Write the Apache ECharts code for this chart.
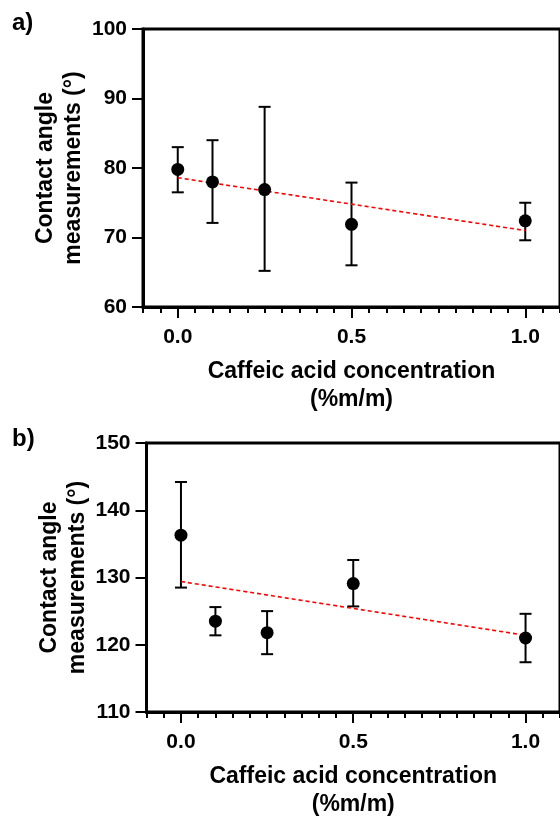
<!DOCTYPE html>
<html>
<head>
<meta charset="utf-8">
<script src="https://cdn.jsdelivr.net/npm/echarts@6/dist/echarts.min.js"></script>
<style>
  html, body { margin: 0; padding: 0; background: #fff; }
  #chart { width: 560px; height: 820px; }
</style>
</head>
<body>
<div id="chart"></div>
<script>
// caffeic acid concentration (%m/m)
var conc = [0, 0.1, 0.25, 0.5, 1.0];
var xMajorTicks = [0, 0.5, 1.0];

// panel a) contact angle, mean and error bar ends
var meanA = [79.8, 78.0, 76.9, 71.9, 72.4];
var upperA = [83.0, 84.0, 88.8, 77.9, 75.0];
var lowerA = [76.5, 72.1, 65.2, 66.0, 69.6];

// panel b)
var meanB = [136.3, 123.5, 121.8, 129.1, 121.0];
var upperB = [144.2, 125.6, 125.0, 132.6, 124.6];
var lowerB = [128.5, 121.4, 118.6, 125.7, 117.4];

// linear fit ends (at x = 0 and x = 1)
var fitX = [0, 1.0];
var fitA = [78.6, 71.0];
var fitB = [129.4, 121.4];

var FONT = '"Liberation Sans", Arial, sans-serif';

function errorBarItem(params, api) {
  var x = api.value(0);
  var top = api.coord([x, api.value(2)]);
  var bot = api.coord([x, api.value(1)]);
  var half = 6;
  var style = { stroke: '#000', lineWidth: 2 };
  return {
    type: 'group',
    children: [
      { type: 'line', shape: { x1: top[0], y1: top[1], x2: bot[0], y2: bot[1] }, style: style },
      { type: 'line', shape: { x1: top[0] - half, y1: top[1], x2: top[0] + half, y2: top[1] }, style: style },
      { type: 'line', shape: { x1: bot[0] - half, y1: bot[1], x2: bot[0] + half, y2: bot[1] }, style: style }
    ]
  };
}

function zip(xs, ys) {
  return xs.map(function (x, i) { return [x, ys[i]]; });
}

// main x axis: labels + long ticks, second one: short minor ticks only
function xAxes(gridIndex) {
  return [{
    type: 'value',
    gridIndex: gridIndex,
    position: 'bottom',
    min: -0.1,
    max: 1.1,
    name: 'Caffeic acid concentration\n(%m/m)',
    nameLocation: 'middle',
    nameGap: 51,
    nameMoveOverlap: false,
    nameTextStyle: { color: '#000', fontWeight: 'bold', fontSize: 23, fontFamily: FONT, lineHeight: 28 },
    axisLine: { onZero: false, lineStyle: { color: '#000', width: 3 } },
    axisTick: { customValues: xMajorTicks, length: 11, lineStyle: { color: '#000', width: 2 } },
    axisLabel: {
      customValues: xMajorTicks,
      margin: 20,
      color: '#000', fontWeight: 'bold', fontSize: 21, fontFamily: FONT,
      formatter: function (v) { return v.toFixed(1); }
    },
    splitLine: { show: false }
  }, {
    type: 'value',
    gridIndex: gridIndex,
    position: 'bottom',
    min: -0.1,
    max: 1.1,
    interval: 0.05,
    axisLine: { show: false },
    axisTick: { length: 6, lineStyle: { color: '#000', width: 2 } },
    axisLabel: { show: false },
    splitLine: { show: false }
  }];
}

function yAxis(gridIndex, min, max) {
  return {
    type: 'value',
    gridIndex: gridIndex,
    min: min,
    max: max,
    interval: 10,
    name: 'Contact angle\nmeasurements (°)',
    nameLocation: 'middle',
    nameGap: 55,
    nameMoveOverlap: false,
    nameTextStyle: { color: '#000', fontWeight: 'bold', fontSize: 23, fontFamily: FONT, lineHeight: 28 },
    axisLine: { show: true, onZero: false, lineStyle: { color: '#000', width: 3 } },
    axisTick: { show: true, length: 11, lineStyle: { color: '#000', width: 2 } },
    axisLabel: { margin: 16, color: '#000', fontWeight: 'bold', fontSize: 21, fontFamily: FONT },
    splitLine: { show: false }
  };
}

function panelSeries(xIdx, yIdx, mean, lower, upper, fit) {
  return [{
    type: 'custom',
    xAxisIndex: xIdx,
    yAxisIndex: yIdx,
    renderItem: errorBarItem,
    encode: { x: 0, y: [1, 2] },
    data: conc.map(function (x, i) { return [x, lower[i], upper[i]]; }),
    z: 2
  }, {
    type: 'line',
    xAxisIndex: xIdx,
    yAxisIndex: yIdx,
    data: zip(fitX, fit),
    showSymbol: false,
    lineStyle: { color: '#ff0000', width: 1.6, type: [4, 3] },
    z: 3
  }, {
    type: 'scatter',
    xAxisIndex: xIdx,
    yAxisIndex: yIdx,
    data: zip(conc, mean),
    symbol: 'circle',
    symbolSize: 13,
    itemStyle: { color: '#000', opacity: 1 },
    z: 4
  }];
}

var chart = echarts.init(document.getElementById('chart'));
chart.setOption({
  animation: false,
  backgroundColor: '#fff',
  grid: [
    { left: 143, top: 29, width: 421, height: 278, show: true, borderColor: '#000', borderWidth: 3, backgroundColor: 'transparent' },
    { left: 146.5, top: 443, width: 421, height: 278, show: true, borderColor: '#000', borderWidth: 3, backgroundColor: 'transparent' }
  ],
  xAxis: xAxes(0).concat(xAxes(1)),
  yAxis: [yAxis(0, 60, 100), yAxis(1, 110, 150)],
  series: panelSeries(0, 0, meanA, lowerA, upperA, fitA)
    .concat(panelSeries(2, 1, meanB, lowerB, upperB, fitB)),
  graphic: [
    { type: 'text', left: 12, top: 11, style: { text: 'a)', font: 'bold 24px ' + FONT, fill: '#000' } },
    { type: 'text', left: 12, top: 427, style: { text: 'b)', font: 'bold 24px ' + FONT, fill: '#000' } }
  ]
});
</script>
</body>
</html>
